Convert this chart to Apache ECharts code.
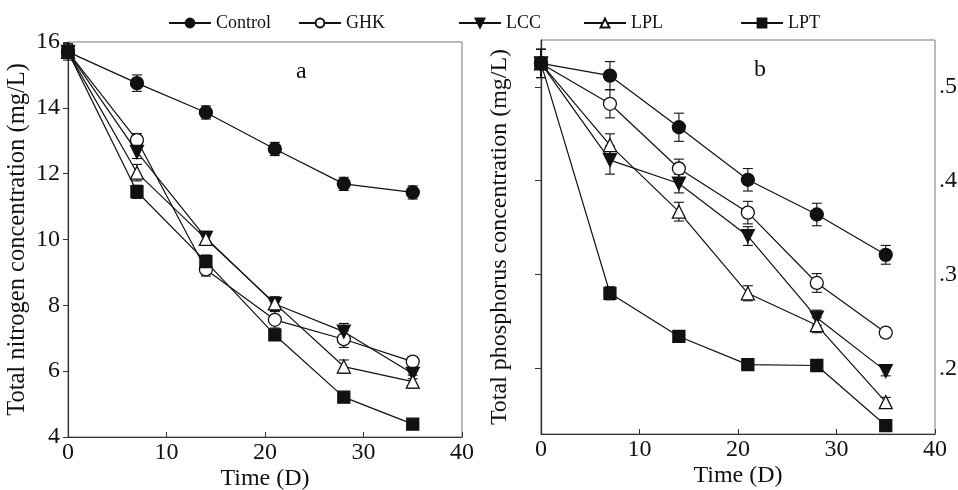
<!DOCTYPE html>
<html>
<head>
<meta charset="utf-8">
<script src="https://cdn.jsdelivr.net/npm/echarts@6/dist/echarts.min.js"></script>
<style>
  html, body { margin: 0; padding: 0; background: #fff; }
  #chart { width: 958px; height: 490px; }
</style>
</head>
<body>
<div id="chart"></div>
<script>
// sampling days
const days = [0, 7, 14, 21, 28, 35];
const xTicks = [0, 10, 20, 30, 40];
const seriesNames = ["Control", "GHK", "LCC", "LPL", "LPT"];

// panel a: total nitrogen (mg/L)
const nControl = [15.7, 14.75, 13.86, 12.75, 11.69, 11.43];
const nGHK = [15.7, 13.02, 9.09, 7.56, 6.97, 6.29];
const nLCC = [15.7, 12.66, 10.05, 8.04, 7.2, 5.92];
const nLPL = [15.7, 12.03, 10.02, 8.06, 6.14, 5.68];
const nLPT = [15.7, 11.45, 9.33, 7.1, 5.21, 4.39];
const nErrControl = [0.25, 0.25, 0.2, 0.2, 0.2, 0.2];
const nErrGHK = [0.2, 0.2, 0.2, 0.25, 0.25, 0.15];
const nErrLCC = [0.2, 0.2, 0.2, 0.2, 0.25, 0.15];
const nErrLPL = [0.2, 0.25, 0.2, 0.2, 0.2, 0.2];
const nErrLPT = [0.2, 0.2, 0.2, 0.15, 0.1, 0.1];
const nTicks = [4, 6, 8, 10, 12, 14, 16];

// panel b: total phosphorus (mg/L)
const pControl = [0.525, 0.512, 0.457, 0.401, 0.364, 0.321];
const pGHK = [0.525, 0.482, 0.413, 0.366, 0.291, 0.238];
const pLCC = [0.525, 0.422, 0.397, 0.341, 0.254, 0.197];
const pLPL = [0.525, 0.438, 0.367, 0.28, 0.246, 0.164];
const pLPT = [0.525, 0.28, 0.234, 0.204, 0.203, 0.139];
const pErrControl = [0.015, 0.015, 0.015, 0.012, 0.012, 0.01];
const pErrGHK = [0.015, 0.015, 0.01, 0.012, 0.01, 0.005];
const pErrLCC = [0.015, 0.015, 0.01, 0.01, 0.008, 0.005];
const pErrLPL = [0.015, 0.012, 0.01, 0.008, 0.008, 0.005];
const pErrLPT = [0.015, 0.007, 0.005, 0.003, 0.003, 0.003];
const pTicks = [0.2, 0.3, 0.4, 0.5];
const pTickLabels = [".2", ".3", ".4", ".5"];

const FONT = "Liberation Serif";
const INK = "#111";

const markers = {
    Control: { symbol: "circle", fill: INK },
    GHK: { symbol: "circle", fill: "#fff" },
    LCC: { symbol: "path://M0,0 L10,0 L5,9 Z", fill: INK },
    LPL: { symbol: "triangle", fill: "#fff" },
    LPT: { symbol: "rect", fill: INK }
};

const nSets = [nControl, nGHK, nLCC, nLPL, nLPT];
const nErrs = [nErrControl, nErrGHK, nErrLCC, nErrLPL, nErrLPT];
const pSets = [pControl, pGHK, pLCC, pLPL, pLPT];
const pErrs = [pErrControl, pErrGHK, pErrLCC, pErrLPL, pErrLPT];

const renderError = (params, api) => {
    const x = api.value(0);
    const y = api.value(1);
    const e = api.value(2);
    const hi = api.coord([x, y + e]);
    const lo = api.coord([x, y - e]);
    const w = 5;
    const style = { stroke: INK, lineWidth: 1.1 };
    return {
        type: "group",
        children: [
            { type: "line", shape: { x1: hi[0], y1: hi[1], x2: lo[0], y2: lo[1] }, style },
            { type: "line", shape: { x1: hi[0] - w, y1: hi[1], x2: hi[0] + w, y2: hi[1] }, style },
            { type: "line", shape: { x1: lo[0] - w, y1: lo[1], x2: lo[0] + w, y2: lo[1] }, style }
        ]
    };
};

const makeSeries = (sets, errs, xAxisIndex, yAxisIndex) => {
    const out = [];
    seriesNames.forEach((name, i) => {
        const m = markers[name];
        out.push({
            name,
            type: "line",
            xAxisIndex,
            yAxisIndex,
            data: days.map((d, k) => [d, sets[i][k]]),
            symbol: m.symbol,
            symbolSize: name === "LPT" ? 12 : 13,
            showSymbol: true,
            lineStyle: { color: INK, width: 1.2 },
            itemStyle: { color: m.fill, borderColor: INK, borderWidth: 1.3 },
            z: 3,
            animation: false
        });
        out.push({
            name: name + " err",
            type: "custom",
            xAxisIndex,
            yAxisIndex,
            renderItem: renderError,
            encode: { x: 0, y: 1 },
            data: days.map((d, k) => [d, sets[i][k], errs[i][k]]),
            z: 2,
            animation: false
        });
    });
    return out;
};

const legendLeft = [163, 293, 453, 578, 735];

const xAxisFor = (gridIndex) => ({
    gridIndex,
    type: "value",
    min: 0,
    max: 40,
    interval: 10,
    name: "Time (D)",
    nameLocation: "middle",
    nameGap: 30,
    nameMoveOverlap: false,
    nameTextStyle: { fontFamily: FONT, fontSize: 24, color: INK },
    axisLine: { lineStyle: { color: "#333", width: 1.2 } },
    axisTick: { inside: true, length: 5, lineStyle: { color: "#333" } },
    axisLabel: { fontFamily: FONT, fontSize: 24, color: INK, margin: 4 },
    splitLine: { show: false }
});

const chart = echarts.init(document.getElementById("chart"));
chart.setOption({
    backgroundColor: "#fff",
    animation: false,
    legend: seriesNames.map((name, i) => ({
        data: [name],
        left: legendLeft[i],
        top: 9,
        itemWidth: 42,
        itemHeight: 11,
        textStyle: { fontFamily: FONT, fontSize: 18, color: INK }
    })),
    grid: [
        { left: 68, top: 42, width: 394, height: 395, outerBoundsMode: "none", show: true, borderColor: "#777", borderWidth: 1 },
        { left: 541, top: 40, width: 394, height: 394, outerBoundsMode: "none", show: true, borderColor: "#777", borderWidth: 1 }
    ],
    xAxis: [xAxisFor(0), xAxisFor(1)],
    yAxis: [
        {
            gridIndex: 0,
            type: "value",
            min: 4,
            max: 16,
            interval: 2,
            name: "Total nitrogen concentration (mg/L)",
            nameLocation: "middle",
            nameGap: 38,
            nameMoveOverlap: false,
            nameTextStyle: { fontFamily: FONT, fontSize: 24.5, color: INK },
            axisLine: { show: true, lineStyle: { color: "#333", width: 1.2 } },
            axisTick: { show: true, length: 5, lineStyle: { color: "#333" } },
            axisLabel: {
                fontFamily: FONT, fontSize: 24, color: INK, margin: 8,
                customValues: nTicks
            },
            splitLine: { show: false }
        },
        {
            gridIndex: 1,
            type: "value",
            position: "right",
            min: 0.13,
            max: 0.55,
            axisLine: { show: true, lineStyle: { color: "#333", width: 1.2 } },
            axisTick: { show: true, inside: true, length: 6, customValues: pTicks, lineStyle: { color: "#333" } },
            axisLabel: {
                fontFamily: FONT, fontSize: 24, color: INK, margin: 4,
                customValues: pTicks,
                formatter: (v) => pTickLabels[pTicks.findIndex((t) => Math.abs(t - v) < 1e-6)] || ""
            },
            splitLine: { show: false }
        },
        {
            gridIndex: 1,
            type: "value",
            position: "left",
            min: 0.13,
            max: 0.55,
            name: "Total phosphorus concentration (mg/L)",
            nameLocation: "middle",
            nameGap: 29,
            nameMoveOverlap: false,
            nameTextStyle: { fontFamily: FONT, fontSize: 24, color: INK },
            axisLine: { show: true, lineStyle: { color: "#333", width: 1.2 } },
            axisTick: { show: false },
            axisLabel: { show: false },
            splitLine: { show: false }
        }
    ],
    graphic: [
        { type: "text", left: 296, top: 60, style: { text: "a", fontFamily: FONT, fontSize: 24, fill: INK } },
        { type: "text", left: 754, top: 58, style: { text: "b", fontFamily: FONT, fontSize: 24, fill: INK } }
    ],
    series: [
        ...makeSeries(nSets, nErrs, 0, 0),
        ...makeSeries(pSets, pErrs, 1, 1)
    ]
});
</script>
</body>
</html>
